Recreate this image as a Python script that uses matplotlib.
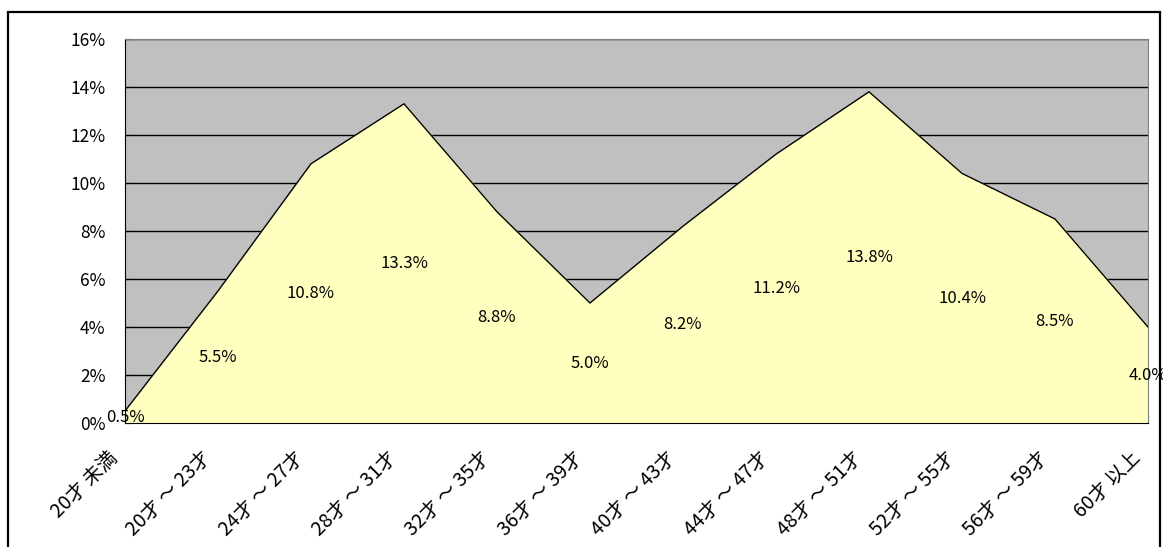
import numpy as np
import matplotlib
matplotlib.use("Agg")
from matplotlib import pyplot as plt
from matplotlib import patches, transforms

plt.rcParams['font.family'] = ['Noto Sans CJK JP', 'DejaVu Sans']

# age groups and their share (%)
age_groups = ['20才 未満', '20才 ～ 23才', '24才 ～ 27才', '28才 ～ 31才',
              '32才 ～ 35才', '36才 ～ 39才', '40才 ～ 43才', '44才 ～ 47才',
              '48才 ～ 51才', '52才 ～ 55才', '56才 ～ 59才', '60才 以上']
share = [0.5, 5.5, 10.8, 13.3, 8.8, 5.0, 8.2, 11.2, 13.8, 10.4, 8.5, 4.0]
y_ticks = [0, 2, 4, 6, 8, 10, 12, 14, 16]


def main():
    fig = plt.figure(figsize=(11.63, 5.47), dpi=100)
    ax = fig.add_axes([125 / 1163, 124 / 547, 1023 / 1163, 384 / 547])

    x = np.arange(len(share))
    ax.set_facecolor('#C0C0C0')

    # grid behind the area
    for t in y_ticks[1:]:
        ax.axhline(t, color='black', lw=1, zorder=1)

    ax.fill_between(x, 0, share, color='#FFFFC0', zorder=2)
    ax.plot(x, share, color='black', lw=1, zorder=3)

    #Label
    for i, v in enumerate(share):
        ax.text(i, v / 2, f'{v:.1f}%', ha='center', va='center',
                fontsize=12, zorder=6)

    ax.set_xlim(0, len(share) - 1)
    ax.set_ylim(0, 16)
    ax.set_yticks(y_ticks)
    ax.set_yticklabels([f'{t}%' for t in y_ticks], fontsize=12.5)
    ax.set_xticks(x)
    ax.set_xticklabels([])

    # rotated category labels, top end just left of the tick
    trans = transforms.blended_transform_factory(ax.transData, ax.transAxes)
    offset = transforms.ScaledTranslation(-18 / 100, -24 / 100, fig.dpi_scale_trans)
    for i, lab in enumerate(age_groups):
        ax.text(i, 0, lab, transform=trans + offset, rotation=45,
                ha='right', va='top', rotation_mode='anchor', fontsize=14,
                clip_on=False)

    ax.tick_params(axis='x', direction='in', length=6, color='black')
    ax.tick_params(axis='y', direction='in', length=4, color='black', pad=14)

    ax.spines['left'].set_color('black')
    ax.spines['bottom'].set_color('black')
    ax.spines['top'].set_color('#808080')
    ax.spines['right'].set_color('#808080')
    for s in ax.spines.values():
        s.set_zorder(5)

    # outer frame
    frame = patches.Rectangle((7.5 / 1163, -0.05), 1152.5 / 1163,
                              (547 - 11.5) / 547 + 0.05,
                              transform=fig.transFigure, fill=False,
                              lw=1.6, edgecolor='black')
    fig.patches.append(frame)

    fig.savefig('out.png', dpi=100)


if __name__ == '__main__':
    main()
